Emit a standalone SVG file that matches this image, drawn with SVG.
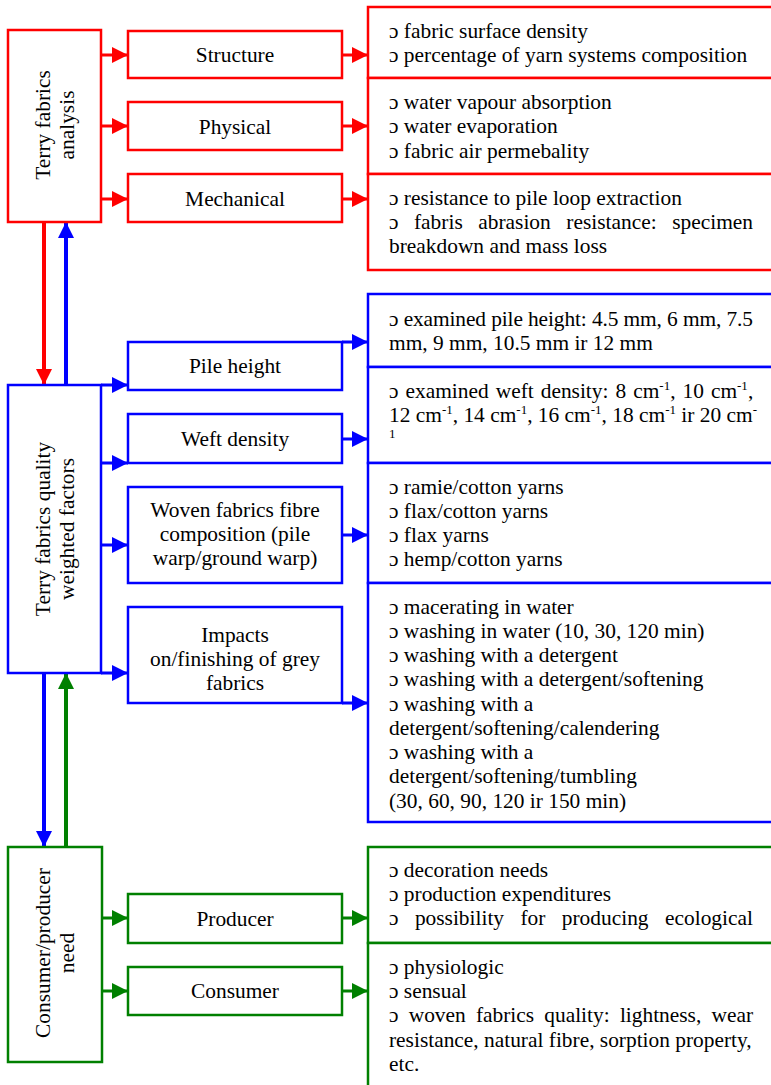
<svg xmlns="http://www.w3.org/2000/svg" width="771" height="1085" viewBox="0 0 771 1085">
<defs>
<style>
text{font-family:"Liberation Serif","Times New Roman",serif;font-size:21.4px;fill:#000}
.c{text-anchor:middle}
.box{fill:#fff;stroke-width:2.5}
.r{stroke:#ff0000}.b{stroke:#0000ff}.g{stroke:#008000}
.ln{fill:none;stroke-width:3}
.vl{fill:none;stroke-width:4}
.sup{font-size:13px}
</style>
<marker id="ar" markerUnits="userSpaceOnUse" markerWidth="16" markerHeight="16" refX="16" refY="8" orient="auto"><path d="M0,0 L16,8 L0,16 z" fill="#ff0000"/></marker>
<marker id="ab" markerUnits="userSpaceOnUse" markerWidth="16" markerHeight="16" refX="16" refY="8" orient="auto"><path d="M0,0 L16,8 L0,16 z" fill="#0000ff"/></marker>
<marker id="ag" markerUnits="userSpaceOnUse" markerWidth="16" markerHeight="16" refX="16" refY="8" orient="auto"><path d="M0,0 L16,8 L0,16 z" fill="#008000"/></marker>
</defs>
<rect width="771" height="1085" fill="#fff"/>

<g id="connectors">
<g class="r" marker-end="url(#ar)">
<line class="ln" x1="101" y1="55" x2="128" y2="55"/>
<line class="ln" x1="101" y1="126" x2="128" y2="126"/>
<line class="ln" x1="101" y1="199" x2="128" y2="199"/>
<line class="ln" x1="342" y1="55" x2="368" y2="55"/>
<line class="ln" x1="342" y1="126" x2="368" y2="126"/>
<line class="ln" x1="342" y1="199" x2="368" y2="199"/>
<line class="vl" x1="44" y1="222" x2="44" y2="385"/>
</g>
<g class="b" marker-end="url(#ab)">
<line class="vl" x1="66" y1="385" x2="66" y2="222"/>
<line class="ln" x1="101" y1="385" x2="128" y2="385"/>
<line class="ln" x1="101" y1="463" x2="128" y2="463"/>
<line class="ln" x1="101" y1="545" x2="128" y2="545"/>
<line class="ln" x1="101" y1="673" x2="128" y2="673"/>
<line class="ln" x1="342" y1="342" x2="368" y2="342"/>
<line class="ln" x1="342" y1="439" x2="368" y2="439"/>
<line class="ln" x1="342" y1="535" x2="368" y2="535"/>
<line class="ln" x1="342" y1="703" x2="368" y2="703"/>
<line class="vl" x1="44" y1="673" x2="44" y2="847"/>
</g>
<g class="g" marker-end="url(#ag)">
<line class="vl" x1="66" y1="847" x2="66" y2="673"/>
<line class="ln" x1="101" y1="918" x2="128" y2="918"/>
<line class="ln" x1="101" y1="991" x2="128" y2="991"/>
<line class="ln" x1="342" y1="918" x2="368" y2="918"/>
<line class="ln" x1="342" y1="991" x2="368" y2="991"/>
</g>
</g>

<!-- Red section -->
<g id="analysis">
<rect class="box r" x="8" y="30" width="93" height="192"/>
<text class="c" transform="translate(50,125) rotate(-90)">Terry fabrics</text>
<text class="c" transform="translate(74,125) rotate(-90)">analysis</text>
</g>
<g id="structure"><rect class="box r" x="128" y="31" width="214" height="47"/><text class="c" x="235" y="62">Structure</text></g>
<g id="physical"><rect class="box r" x="128" y="102" width="214" height="48"/><text class="c" x="235" y="134">Physical</text></g>
<g id="mechanical"><rect class="box r" x="128" y="174" width="214" height="48"/><text class="c" x="235" y="206">Mechanical</text></g>
<g id="structure-list"><rect class="box r" x="368" y="7" width="420" height="71"/>
<text x="389" y="38">ɔ fabric surface density</text>
<text x="389" y="62">ɔ percentage of yarn systems composition</text></g>
<g id="physical-list"><rect class="box r" x="368" y="78" width="420" height="96"/>
<text x="389" y="109">ɔ water vapour absorption</text>
<text x="389" y="133">ɔ water evaporation</text>
<text x="389" y="158">ɔ fabric air permebality</text></g>
<g id="mechanical-list"><rect class="box r" x="368" y="174" width="420" height="96"/>
<text x="389" y="205">ɔ resistance to pile loop extraction</text>
<text y="229"><tspan x="389">ɔ</tspan><tspan x="414">fabris</tspan><tspan x="478.3">abrasion</tspan><tspan x="566.3">resistance:</tspan><tspan x="672.2">specimen</tspan></text>
<text x="389" y="253">breakdown and mass loss</text></g>

<!-- Blue section -->
<g id="factors">
<rect class="box b" x="8" y="385" width="93" height="288"/>
<text class="c" transform="translate(50,529) rotate(-90)">Terry fabrics quality</text>
<text class="c" transform="translate(74,529) rotate(-90)">weighted factors</text>
</g>
<g id="pile"><rect class="box b" x="128" y="342" width="214" height="48"/><text class="c" x="235" y="373">Pile height</text></g>
<g id="weft"><rect class="box b" x="128" y="414" width="214" height="49"/><text class="c" x="235" y="446">Weft density</text></g>
<g id="woven"><rect class="box b" x="128" y="487" width="214" height="96"/>
<text class="c" x="235" y="517">Woven fabrics fibre</text>
<text class="c" x="235" y="541">composition (pile</text>
<text class="c" x="235" y="565">warp/ground warp)</text></g>
<g id="impacts"><rect class="box b" x="128" y="607" width="214" height="96"/>
<text class="c" x="235" y="642">Impacts</text>
<text class="c" x="235" y="666">on/finishing of grey</text>
<text class="c" x="235" y="690">fabrics</text></g>
<g id="pile-list"><rect class="box b" x="368" y="294" width="420" height="73"/>
<text x="389" y="326" textLength="364" lengthAdjust="spacing">ɔ examined pile height: 4.5 mm, 6 mm, 7.5</text>
<text x="389" y="350">mm, 9 mm, 10.5 mm ir 12 mm</text></g>
<g id="weft-list"><rect class="box b" x="368" y="367" width="420" height="96"/>
<text y="398"><tspan x="389">ɔ</tspan><tspan x="405.5">examined</tspan><tspan x="495.7">weft</tspan><tspan x="540.7">density:</tspan><tspan x="615.5">8</tspan><tspan x="633.2">cm</tspan><tspan class="sup" dy="-8">-1</tspan><tspan dy="8">,</tspan><tspan x="682.5">10</tspan><tspan x="710.9">cm</tspan><tspan class="sup" dy="-8">-1</tspan><tspan dy="8">,</tspan></text>
<text x="389" y="422">12 cm<tspan class="sup" dy="-8">-1</tspan><tspan dy="8">, 14 cm</tspan><tspan class="sup" dy="-8">-1</tspan><tspan dy="8">, 16 cm</tspan><tspan class="sup" dy="-8">-1</tspan><tspan dy="8">, 18 cm</tspan><tspan class="sup" dy="-8">-1</tspan><tspan dy="8"> ir 20 cm</tspan><tspan class="sup" dy="-8">-</tspan></text>
<text class="sup" x="389" y="438">1</text></g>
<g id="woven-list"><rect class="box b" x="368" y="463" width="420" height="120"/>
<text x="389" y="494">ɔ ramie/cotton yarns</text>
<text x="389" y="518">ɔ flax/cotton yarns</text>
<text x="389" y="542">ɔ flax yarns</text>
<text x="389" y="566">ɔ hemp/cotton yarns</text></g>
<g id="impacts-list"><rect class="box b" x="368" y="583" width="420" height="239"/>
<text x="389" y="614">ɔ macerating in water</text>
<text x="389" y="638">ɔ washing in water (10, 30, 120 min)</text>
<text x="389" y="662">ɔ washing with a detergent</text>
<text x="389" y="686">ɔ washing with a detergent/softening</text>
<text x="389" y="711">ɔ washing with a</text>
<text x="389" y="735">detergent/softening/calendering</text>
<text x="389" y="759">ɔ washing with a</text>
<text x="389" y="783">detergent/softening/tumbling</text>
<text x="389" y="808">(30, 60, 90, 120 ir 150 min)</text></g>

<!-- Green section -->
<g id="need">
<rect class="box g" x="8" y="847" width="94" height="215"/>
<text class="c" transform="translate(50,953) rotate(-90)">Consumer/producer</text>
<text class="c" transform="translate(74,953) rotate(-90)">need</text>
</g>
<g id="producer"><rect class="box g" x="128" y="894" width="214" height="49"/><text class="c" x="235" y="926">Producer</text></g>
<g id="consumer"><rect class="box g" x="128" y="967" width="214" height="48"/><text class="c" x="235" y="998">Consumer</text></g>
<g id="producer-list"><rect class="box g" x="368" y="847" width="420" height="96"/>
<text x="389" y="877">ɔ decoration needs</text>
<text x="389" y="901">ɔ production expenditures</text>
<text y="925"><tspan x="389">ɔ</tspan><tspan x="414.9">possibility</tspan><tspan x="520.4">for</tspan><tspan x="561.8">producing</tspan><tspan x="665">ecological</tspan></text></g>
<g id="consumer-list"><rect class="box g" x="368" y="943" width="420" height="160"/>
<text x="389" y="974">ɔ physiologic</text>
<text x="389" y="998">ɔ sensual</text>
<text y="1022"><tspan x="389">ɔ</tspan><tspan x="408.7">woven</tspan><tspan x="475.9">fabrics</tspan><tspan x="544.3">quality:</tspan><tspan x="619.9">lightness,</tspan><tspan x="711.5">wear</tspan></text>
<text x="389" y="1047">resistance, natural fibre, sorption property,</text>
<text x="389" y="1071">etc.</text></g>
</svg>
